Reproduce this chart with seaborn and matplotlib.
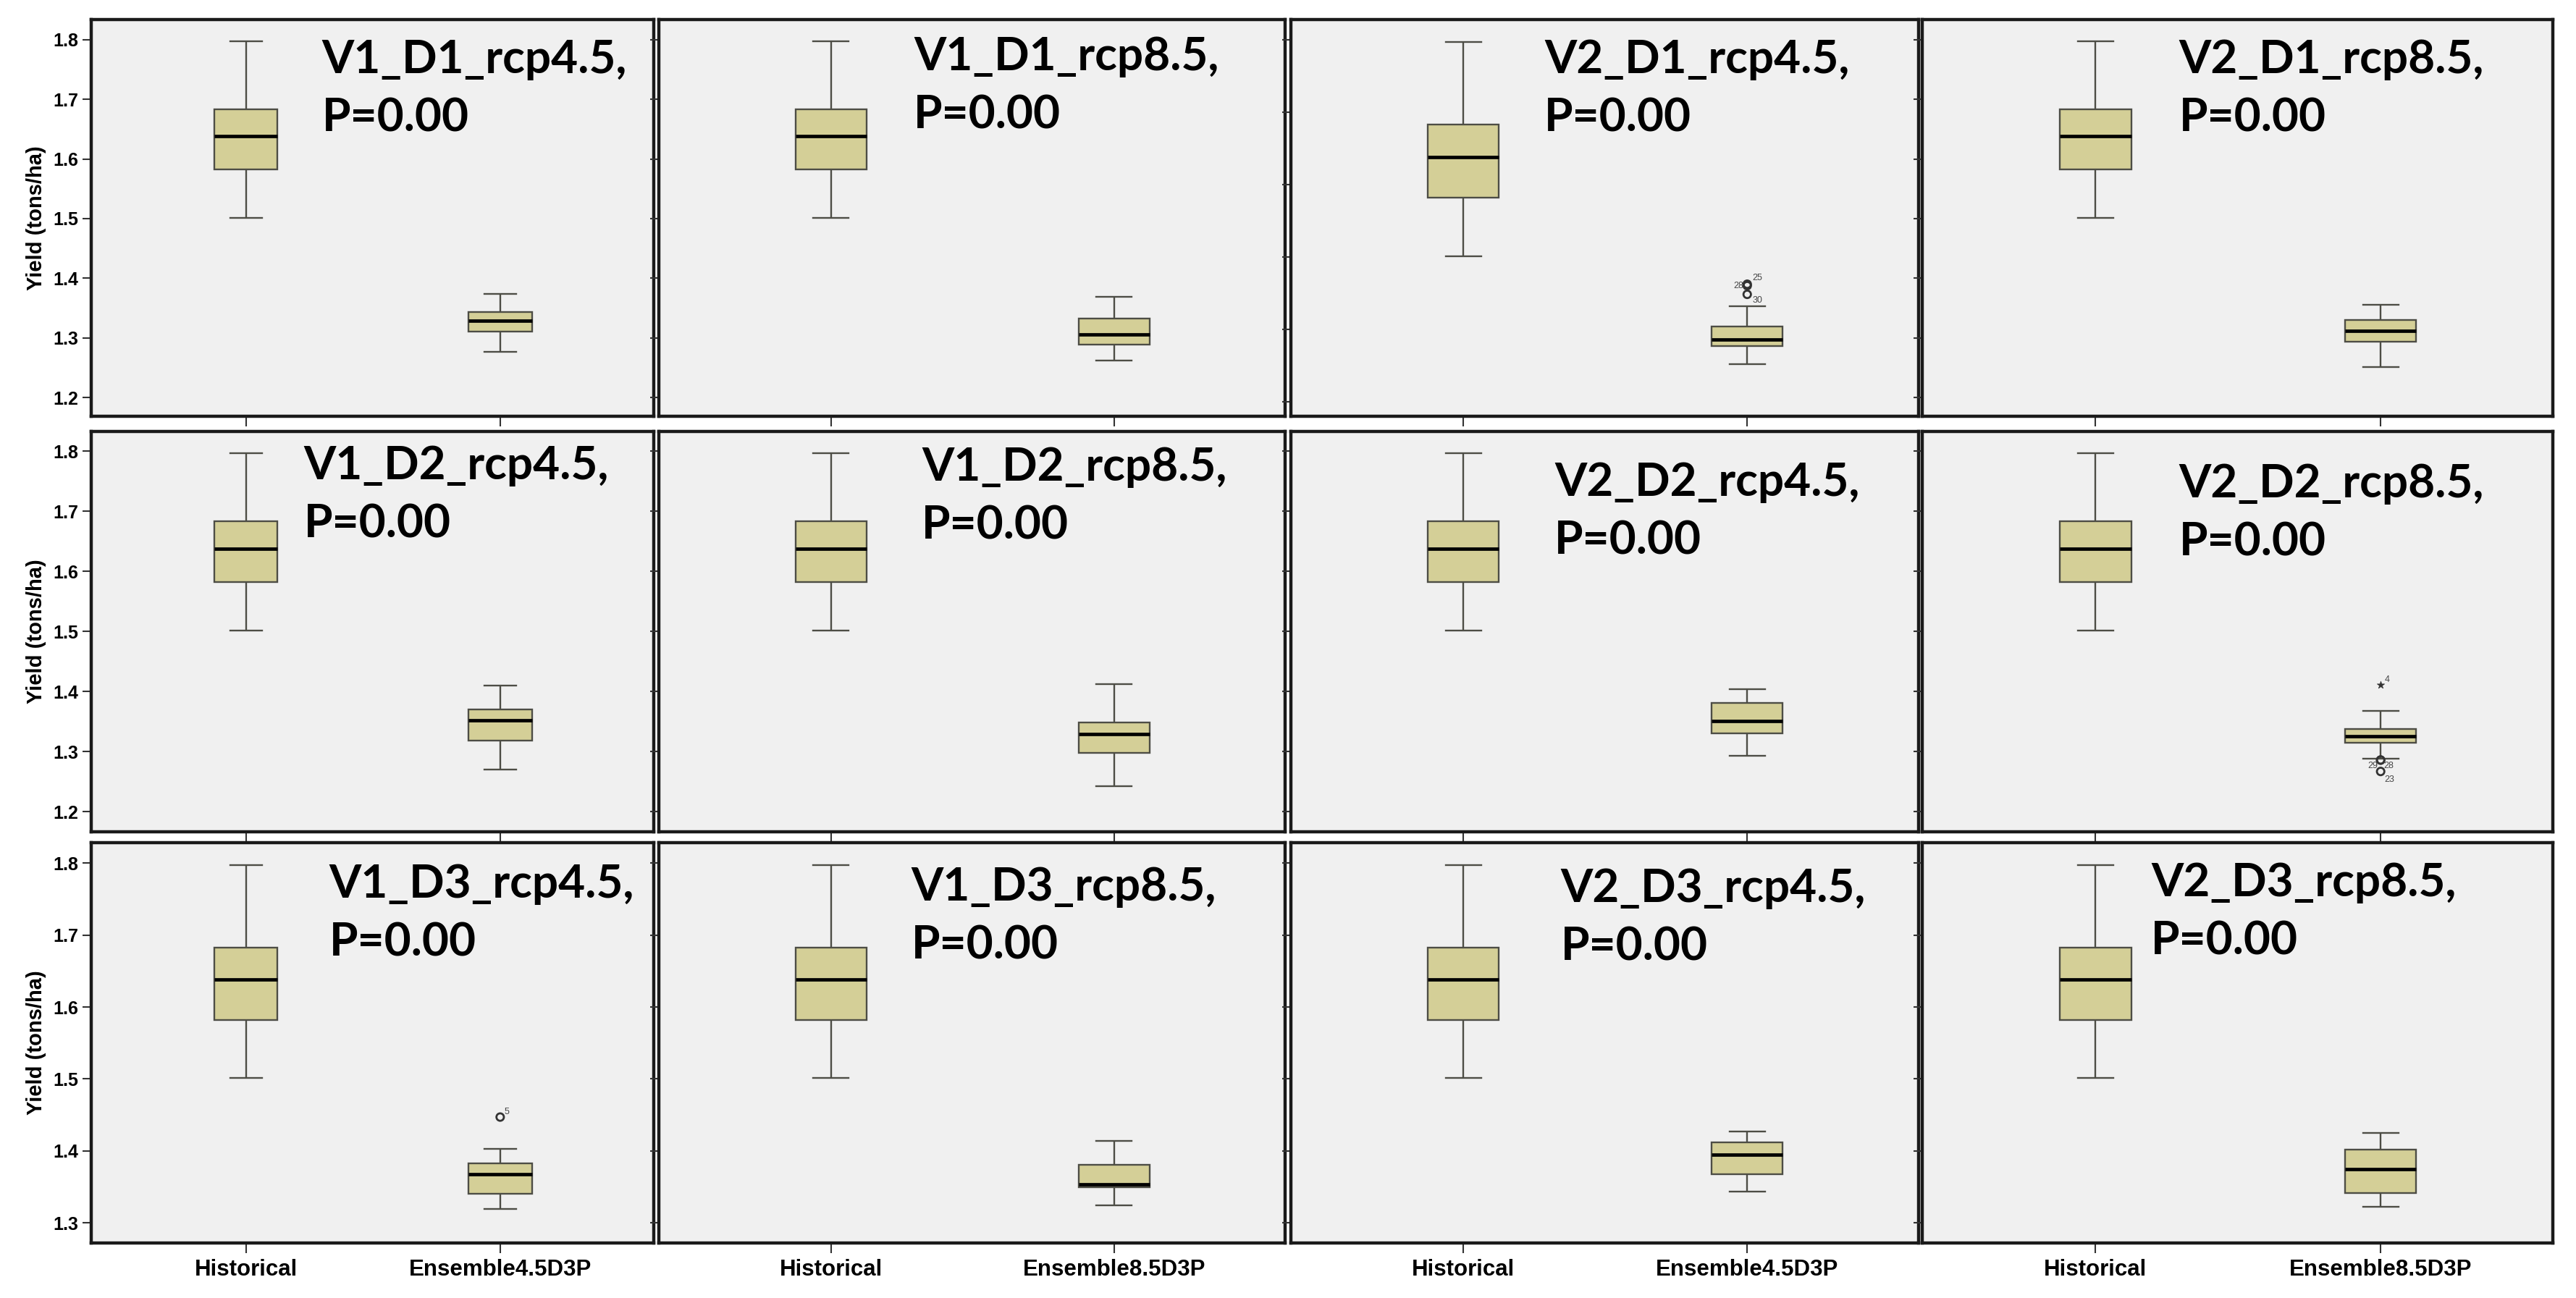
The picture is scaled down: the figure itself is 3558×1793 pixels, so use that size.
import numpy as np
import pandas as pd
import matplotlib
matplotlib.use("Agg")
import matplotlib.pyplot as plt
import seaborn as sns

# ---------------- data ----------------
titles = ["V1_D1_rcp4.5", "V1_D1_rcp8.5", "V2_D1_rcp4.5", "V2_D1_rcp8.5",
          "V1_D2_rcp4.5", "V1_D2_rcp8.5", "V2_D2_rcp4.5", "V2_D2_rcp8.5",
          "V1_D3_rcp4.5", "V1_D3_rcp8.5", "V2_D3_rcp4.5", "V2_D3_rcp8.5"]
p_values = ["0.00", "0.00", "0.00", "0.00", "0.00", "0.00",
            "0.00", "0.00", "0.00", "0.00", "0.00", "0.00"]
hist_label = "Historical"
ens_labels = ["Ensemble4.5D3P", "Ensemble8.5D3P", "Ensemble4.5D3P", "Ensemble8.5D3P"]

# Historical: lower whisker, Q1, median, Q3, upper whisker (same in every panel)
hist_stats = [1.501, 1.582, 1.638, 1.683, 1.797]

# Ensemble five-number summaries per panel (row-major order)
ens_low  = [1.277, 1.262, 1.352, 1.251, 1.270, 1.242, 1.293, 1.288, 1.319, 1.324, 1.343, 1.322]
ens_q1   = [1.310, 1.289, 1.377, 1.294, 1.319, 1.298, 1.331, 1.315, 1.340, 1.349, 1.368, 1.341]
ens_med  = [1.329, 1.306, 1.386, 1.312, 1.352, 1.329, 1.351, 1.326, 1.368, 1.353, 1.395, 1.375]
ens_q3   = [1.343, 1.333, 1.404, 1.330, 1.370, 1.349, 1.381, 1.338, 1.383, 1.381, 1.412, 1.402]
ens_high = [1.374, 1.369, 1.432, 1.355, 1.410, 1.412, 1.404, 1.368, 1.403, 1.414, 1.427, 1.425]

# Outliers (SPSS case labels)
out_panel = [2, 2, 2, 7, 7, 7, 7, 8]
out_value = [1.460, 1.462, 1.448, 1.411, 1.286, 1.286, 1.267, 1.447]
out_case  = ["28", "25", "30", "4", "29", "28", "23", "5"]
out_kind  = ["mild", "mild", "mild", "extreme", "mild", "mild", "mild", "mild"]

# y-axis ticks
ticks_12 = [1.2, 1.3, 1.4, 1.5, 1.6, 1.7, 1.8]
ticks_13 = [1.3, 1.4, 1.5, 1.6, 1.7, 1.8]

# ---------------- layout / style ----------------
W, H = 3558, 1793
col_left = [126, 910, 1783, 2655]
col_right = [903, 1775, 2650, 3526]
row_top = [27, 596, 1164]
row_bot = [575, 1149, 1717]

ylims = [(1.1686, 1.8336), (1.1686, 1.8336), (1.2796, 1.8276), (1.1686, 1.8336),
         (1.1666, 1.8329), (1.1666, 1.8329), (1.1666, 1.8329), (1.1666, 1.8329),
         (1.272, 1.8284), (1.272, 1.8284), (1.272, 1.8284), (1.272, 1.8284)]
yticks = [ticks_12, ticks_12, ticks_13, ticks_12,
          ticks_12, ticks_12, ticks_12, ticks_12,
          ticks_13, ticks_13, ticks_13, ticks_13]

title_x = [0.41, 0.407, 0.404, 0.407, 0.378, 0.42, 0.42, 0.407, 0.423, 0.403, 0.43, 0.363]
title_top = [0.049, 0.042, 0.05, 0.05, 0.034, 0.038, 0.076, 0.08, 0.052, 0.06, 0.063, 0.049]

out_dx = [-4, 5, 5, 4, -3, 3, 4, 4]
out_dy = [0, 6, -6, 5, -6, -6, -8, 5]
out_ha = ["right", "left", "left", "left", "right", "left", "left", "left"]

box_color = "#D4CF97"
edge_color = "#4d4d45"
bg_color = "#F0F0F0"
tick_font = ["Liberation Sans", "DejaVu Sans"]
title_font = ["Lato", "Liberation Sans", "DejaVu Sans"]

fig = plt.figure(figsize=(W / 100, H / 100), dpi=100)
fig.patch.set_facecolor("white")

for i in range(12):
    r, c = divmod(i, 4)
    l, rr = col_left[c], col_right[c]
    t, b = row_top[r], row_bot[r]
    ax = fig.add_axes([l / W, 1 - b / H, (rr - l) / W, (b - t) / H])
    ax.set_facecolor(bg_color)

    ens = ens_labels[c]
    order = [hist_label, ens]
    df = pd.DataFrame({
        "group": [hist_label] * 5 + [ens] * 5,
        "yield": hist_stats + [ens_low[i], ens_q1[i], ens_med[i], ens_q3[i], ens_high[i]],
    })
    sns.boxplot(data=df, x="group", y="yield", order=order, ax=ax,
                whis=(0, 100), width=0.25, color=box_color, saturation=1,
                linecolor=edge_color, linewidth=1.7, showfliers=False,
                medianprops=dict(color="black", linewidth=3.4))

    # outliers
    for k in range(len(out_panel)):
        if out_panel[k] != i:
            continue
        xpos = order.index(ens)
        if out_kind[k] == "extreme":
            ax.scatter([xpos], [out_value[k]], marker="*", s=60, color="#333333",
                       linewidths=0.5, zorder=5)
        else:
            ax.scatter([xpos], [out_value[k]], marker="o", s=55, facecolors="none",
                       edgecolors="#333333", linewidths=2.0, zorder=5)
        ax.annotate(out_case[k], (xpos, out_value[k]), xytext=(out_dx[k], out_dy[k]),
                    textcoords="offset points", ha=out_ha[k], va="center",
                    fontsize=9, color="#444444", family=tick_font)

    ax.set_xlim(-0.608, 1.604)
    ax.set_ylim(*ylims[i])
    ax.set_yticks(yticks[i])
    ax.set_yticklabels([f"{v:.1f}" for v in yticks[i]])
    ax.set_xlabel("")
    ax.set_ylabel("")
    ax.grid(False)

    for sp in ax.spines.values():
        sp.set_linewidth(3.2)
        sp.set_color("#1a1a1a")

    ax.tick_params(axis="y", direction="out", length=9, width=1.5, color="#333333",
                   pad=3.5, labelsize=18, labelleft=(c == 0))
    ax.tick_params(axis="x", direction="out", length=10, width=1.5, color="#333333",
                   pad=5.5, labelsize=22.5, labelbottom=(r == 2))
    for lab in ax.get_yticklabels() + ax.get_xticklabels():
        lab.set_fontweight("bold")
        lab.set_family(tick_font)

    if c == 0:
        ax.set_ylabel("Yield (tons/ha)", fontsize=21, fontweight="bold", family=tick_font)
        ax.yaxis.set_label_coords((64 - l) / (rr - l), 0.5)

    ax.text(title_x[i], 1 - title_top[i], f"{titles[i]},\nP={p_values[i]}",
            transform=ax.transAxes, ha="left", va="top", fontsize=46,
            fontweight="bold", family=title_font, linespacing=1.5, color="black")

fig.savefig("out.png", dpi=100, facecolor="white")
